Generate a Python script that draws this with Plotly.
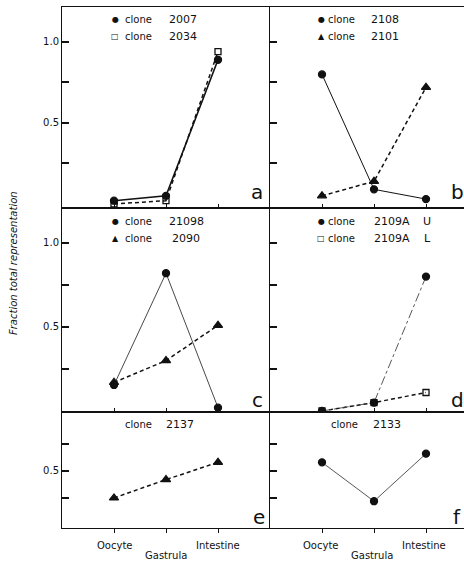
import plotly.graph_objects as go

W, H = 464, 562

stages = ["Oocyte", "Gastrula", "Intestine"]
stage_pos = [0, 1, 2]

# fraction of total representation per clone at each stage
clone_2007 = [0.02, 0.05, 0.89]
clone_2034 = [0.00, 0.02, 0.94]
clone_2108 = [0.80, 0.09, 0.03]
clone_2101 = [0.05, 0.14, 0.72]
clone_21098 = [0.155, 0.82, 0.02]
clone_2090 = [0.17, 0.30, 0.51]
clone_2109A_U = [0.00, 0.05, 0.80]
clone_2109A_L = [0.00, 0.05, 0.11]
clone_2137 = [0.25, 0.42, 0.58]
clone_2133 = [0.58, 0.22, 0.66]


def px(x):
    return x / W


def py(y):
    return 1 - y / H


FONT = "DejaVu Sans"
INK = "#111111"
DASHED = "4px,3px"

fig = go.Figure()

# panel layout: column, row
panels = {
    "a": (1, 0), "b": (2, 0),
    "c": (1, 1), "d": (2, 1),
    "e": (1, 2), "f": (2, 2),
}
col_dom = {1: [px(62), px(270)], 2: [px(270), 1.0]}
col_rng = {1: [-1, 3], 2: [-1, (464 - 270) / 52 - 1]}
row_dom = {0: [py(208), py(7)], 1: [py(412), py(208)], 2: [py(528), py(412)]}
row_rng = {0: [-0.025, 1.216], 1: [-0.006, 1.208], 2: [-0.028, 1.046]}

axis_ids = {}
for i, (name, (col, row)) in enumerate(panels.items(), start=1):
    axis_ids[name] = i
    xk = "xaxis" if i == 1 else f"xaxis{i}"
    yk = "yaxis" if i == 1 else f"yaxis{i}"
    if row < 2:
        yt = [0.25, 0.5, 0.75, 1.0]
        ytext = ["", "0.5", "", "1.0"]
    else:
        yt = [0.25, 0.5, 0.75]
        ytext = ["", "0.5", ""]
    fig.layout[xk] = dict(
        domain=col_dom[col], range=col_rng[col], anchor=f"y{i}" if i > 1 else "y",
        showgrid=False, zeroline=False, showline=True, linecolor=INK,
        linewidth=1.2, mirror=True, tickvals=stage_pos,
        ticks="outside" if row == 2 else "inside", ticklen=4, tickcolor=INK,
        showticklabels=False, fixedrange=True,
    )
    fig.layout[yk] = dict(
        domain=row_dom[row], range=row_rng[row], anchor=f"x{i}" if i > 1 else "x",
        showgrid=False, zeroline=False, showline=True, linecolor=INK,
        linewidth=1, mirror=False, tickvals=yt, ticktext=ytext,
        ticks="inside", ticklen=7, tickwidth=1.5, tickcolor=INK,
        showticklabels=(col == 1),
        tickfont=dict(family=FONT, size=10, color=INK), fixedrange=True,
    )


def add_series(panel, values, symbol, dash, width=1.2, size=7, color=INK):
    i = axis_ids[panel]
    fig.add_trace(go.Scatter(
        x=stage_pos, y=values, mode="lines+markers",
        xaxis="x" if i == 1 else f"x{i}", yaxis="y" if i == 1 else f"y{i}",
        line=dict(color=color, width=width, dash=dash),
        marker=dict(symbol=symbol, size=size, color=INK,
                    line=dict(color=INK, width=1.3)),
        showlegend=False, hoverinfo="skip",
    ))


add_series("a", clone_2034, "square-open", DASHED, 1.5, 6)
add_series("a", clone_2007, "circle", "solid", 1.6, 7)
add_series("b", clone_2108, "circle", "solid", 1.0, 7)
add_series("b", clone_2101, "triangle-up", DASHED, 1.5, 8)
add_series("c", clone_21098, "circle", "solid", 0.9, 7, "#333333")
add_series("c", clone_2090, "triangle-up", DASHED, 1.5, 8)
add_series("d", clone_2109A_L, "square-open", DASHED, 1.5, 6)
add_series("d", clone_2109A_U, "circle", "dashdot", 0.9, 7, "#444444")
add_series("e", clone_2137, "triangle-up", DASHED, 1.5, 8)
add_series("f", clone_2133, "circle", "solid", 0.9, 7, "#444444")

ann = []


def text(x, y, s, size=10, **kw):
    ann.append(dict(x=px(x), y=py(y), xref="paper", yref="paper", text=s,
                    showarrow=False, font=dict(family=FONT, size=size, color=INK),
                    xanchor=kw.pop("xanchor", "center"), yanchor="middle", **kw))


def legend_row(x_sym, x_clone, x_num, y, sym, num, extra=None, x_extra=None):
    if sym:
        text(x_sym, y, sym, 8)
    text(x_clone, y, "clone", 10)
    text(x_num, y, num, 11)
    if extra:
        text(x_extra, y, extra, 11)


legend_row(115, 138, 183, 20, "●", "2007")
legend_row(115, 138, 183, 37, "□", "2034")
legend_row(321, 341, 385, 20, "●", "2108")
legend_row(321, 341, 385, 37, "▲", "2101")
legend_row(115, 138, 186, 222, "●", "21098")
legend_row(115, 138, 186, 238, "▲", "2090")
legend_row(321, 341, 392, 222, "●", "2109A", "U", 427)
legend_row(321, 341, 392, 238, "□", "2109A", "L", 427)
legend_row(None, 138, 180, 424, None, "2137")
legend_row(None, 344, 387, 424, None, "2133")

# panel letters
for letter, (x, y) in {"a": (257, 192), "b": (457, 192), "c": (257, 400),
                       "d": (457, 400), "e": (259, 517), "f": (457, 517)}.items():
    text(x, y, letter, 20)

# stage labels under the bottom row
for col_x0 in (114, 320):
    text(col_x0, 545, stages[0], 10)
    text(col_x0 + 52, 555, stages[1], 10)
    text(col_x0 + 104, 545, stages[2], 10)

ann.append(dict(x=px(13), y=py(263), xref="paper", yref="paper",
                text="<i>Fraction total representation</i>", textangle=-90,
                showarrow=False, font=dict(family=FONT, size=10, color=INK),
                xanchor="center", yanchor="middle"))

fig.update_layout(
    width=W, height=H, margin=dict(l=0, r=0, t=0, b=0),
    paper_bgcolor="white", plot_bgcolor="white", annotations=ann,
)

fig.write_html("out.html", config={"displayModeBar": False})
